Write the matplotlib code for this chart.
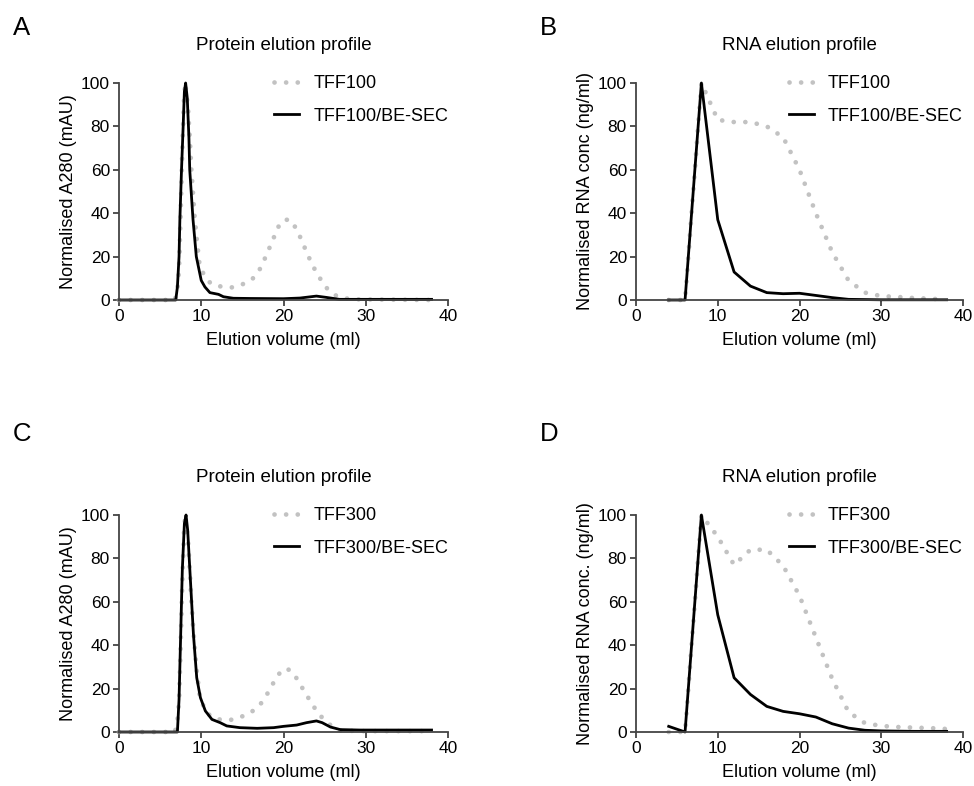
import numpy as np
import matplotlib.pyplot as plt

plt.rcParams['font.family'] = ['Liberation Sans', 'DejaVu Sans']
plt.rcParams['font.size'] = 12

# --- protein elution (A280)
a_tff_x = [0, 6.8, 7.1, 7.3, 7.5, 7.7, 7.9, 8.05, 8.4, 8.6, 8.8, 9.0, 9.2, 9.4, 9.8, 10.4, 11.2,
           12.5, 13.8, 15.0, 16.2, 17.0, 17.6, 18.1, 18.7, 19.1, 19.8, 20.3, 20.9, 21.6, 22.2,
           22.7, 23.2, 23.8, 24.5, 25.2, 26.2, 27.4, 28.9, 38]
a_tff_y = [0, 0, 5, 14, 40, 70, 92, 100, 88, 75, 60, 49, 38, 30, 16, 11, 7.4,
           6.1, 5.8, 7.2, 9.6, 13.3, 17.9, 22.5, 27.3, 32, 36.3, 37, 36.8, 32.5, 27.6,
           23, 18.7, 14.1, 9.6, 5.7, 2.3, 0.8, 0.3, 0]
a_sec_x = [0, 6.9, 7.1, 7.3, 7.4, 7.6, 7.8, 7.95, 8.1, 8.3, 8.5, 8.6, 9.0, 9.4, 10.0, 10.45, 11.05,
           12.1, 12.7, 13.9, 16, 20, 22, 24, 25.2, 26.8, 30, 38]
a_sec_y = [0, 0, 6, 20, 37, 60, 80, 96, 100, 93, 75, 60, 37, 20, 9, 6, 3.4,
           2.6, 1.5, 0.8, 0.7, 0.6, 0.9, 1.8, 1.2, 0.3, 0.3, 0.3]

c_tff_x = [0, 6.8, 7.1, 7.3, 7.5, 7.7, 7.9, 8.05, 8.4, 8.6, 8.8, 9.0, 9.4, 9.8, 10.4, 11.1, 12.2,
           13.5, 14.8, 16.0, 17.1, 17.8, 18.5, 19.1, 19.9, 20.5, 21.1, 21.8, 22.5, 23.2, 23.9,
           24.7, 25.7, 26.9, 29, 38]
c_tff_y = [0, 0, 5, 14, 40, 70, 92, 100, 88, 75, 60, 49, 30, 17, 10.5, 7.4, 5.8,
           5.5, 6.9, 8.9, 12.3, 16.1, 20.7, 25, 28.9, 29, 27.6, 23.5, 18.9, 14.6, 10.4,
           6.6, 3.2, 0.8, 0.4, 0.4]
c_sec_x = [0, 7.1, 7.3, 7.5, 7.7, 7.95, 8.15, 8.35, 8.6, 9.05, 9.45, 9.9, 10.5, 11.3, 12.3, 13.1,
           14.7, 16.8, 18.8, 20, 21.6, 22.8, 24.0, 24.7, 25.7, 26.9, 29.3, 38]
c_sec_y = [0, 0, 15, 45, 75, 96, 100, 93, 75.7, 45, 25, 15.8, 9.7, 5.8, 4.3, 2.8,
           2.0, 1.7, 2.0, 2.6, 3.2, 4.3, 5.1, 4.3, 2.3, 1.1, 0.9, 0.9]

# --- RNA elution, fractions every 2 ml
rna_x = list(range(4, 40, 2))
b_tff = [0, 0, 100, 83, 82, 82, 80, 75, 60, 40, 22, 9, 3.4, 1.8, 1.4, 0.9, 0.6, 0.2]
b_sec = [0, 0, 100, 37, 12.9, 6.4, 3.4, 2.9, 3.1, 2.1, 1.1, 0.3, 0.2, 0.1, 0.1, 0.1, 0.1, 0.1]
d_tff = [0, 0, 100, 90, 77, 84, 84, 76.6, 62.8, 43.6, 24.5, 9.2, 4.1, 2.8, 2.3, 2.0, 1.8, 1.4]
d_sec = [2.6, 0, 100, 54, 25, 17.3, 11.8, 9.5, 8.4, 6.9, 3.8, 1.8, 0.8, 0.5, 0.4, 0.3, 0.3, 0.3]

panels = [
    ('A', 'Protein elution profile', 'Normalised A280 (mAU)', 'TFF100',
     a_tff_x, a_tff_y, a_sec_x, a_sec_y),
    ('B', 'RNA elution profile', 'Normalised RNA conc (ng/ml)', 'TFF100',
     rna_x, b_tff, rna_x, b_sec),
    ('C', 'Protein elution profile', 'Normalised A280 (mAU)', 'TFF300',
     c_tff_x, c_tff_y, c_sec_x, c_sec_y),
    ('D', 'RNA elution profile', 'Normalised RNA conc. (ng/ml)', 'TFF300',
     rna_x, d_tff, rna_x, d_sec),
]

W, H = 974, 786
fig = plt.figure(figsize=(W / 100, H / 100), dpi=100)

# axes boxes in pixels: left, right, top, bottom
boxes = [(119, 448, 83, 300), (636, 963, 83, 300),
         (119, 448, 515, 732), (636, 963, 515, 732)]
letter_pos = [(13, 35), (540, 35), (13, 441), (540, 441)]

grey = '#c2c2c2'
axis_col = '#444444'

for (letter, title, ylab, name, gx, gy, bx, by), (l, r, t, b), (lx, ly) in zip(panels, boxes, letter_pos):
    ax = fig.add_axes([l / W, 1 - b / H, (r - l) / W, (b - t) / H])
    ax.plot(gx, gy, color=grey, lw=3.4, linestyle=(0, (0.01, 2.45)),
            dash_capstyle='round', label=name, clip_on=False)
    ax.plot(bx, by, color='black', lw=2.0, label=name + '/BE-SEC', clip_on=False)
    ax.set_xlim(0, 40)
    ax.set_ylim(0, 100)
    ax.set_xticks([0, 10, 20, 30, 40])
    ax.set_yticks([0, 20, 40, 60, 80, 100])
    for s in ['top', 'right']:
        ax.spines[s].set_visible(False)
    for s in ['left', 'bottom']:
        ax.spines[s].set_color(axis_col)
        ax.spines[s].set_linewidth(1.3)
    ax.tick_params(direction='out', length=4, width=1.3, pad=2.5, color=axis_col, labelsize=12.5)
    ax.set_xlabel('Elution volume (ml)', fontsize=13, labelpad=6)
    ax.set_ylabel(ylab, fontsize=13, labelpad=3)
    ax.set_title(title, fontsize=13.5, pad=24)
    ax.legend(loc='upper right', bbox_to_anchor=(1.0, 1.035), frameon=False,
              borderpad=0, borderaxespad=0, handlelength=1.35, handletextpad=0.8,
              labelspacing=0.85, fontsize=13)
    fig.text(lx / W, 1 - ly / H, letter, fontsize=18.5, va='baseline', ha='left')

fig.savefig('out.png', dpi=100)
